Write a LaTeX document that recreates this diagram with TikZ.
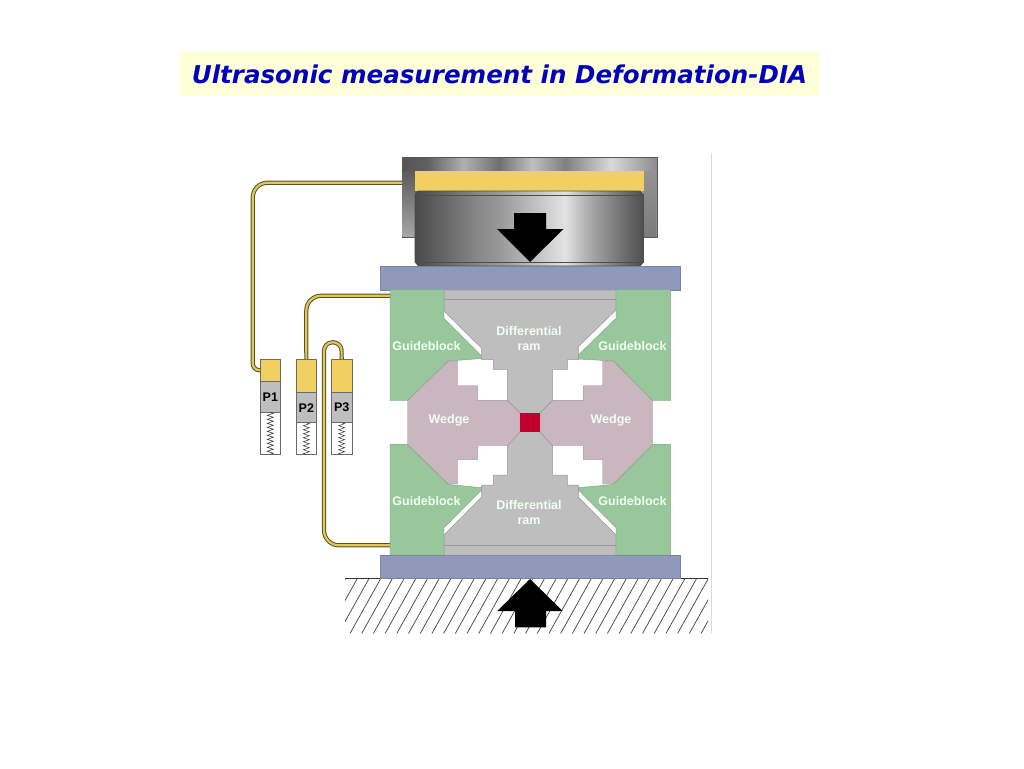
\documentclass[tikz,border=0pt]{standalone}
\usepackage{fontspec}
\setmainfont{Liberation Sans}
\newfontfamily\titlefont{DejaVu Sans}
\usetikzlibrary{decorations.pathmorphing}
\definecolor{platec}{HTML}{8F9ABA}
\definecolor{greenc}{HTML}{98C79C}
\definecolor{wedgec}{HTML}{C9B6BE}
\definecolor{grayc}{HTML}{BEBEBE}
\definecolor{redc}{HTML}{C0002A}
\definecolor{yellowc}{HTML}{F0D060}
\definecolor{edgec}{HTML}{6A6A6A}
\definecolor{cablec}{HTML}{5A4E28}
\definecolor{cablefill}{HTML}{DDC85A}
\definecolor{titlebg}{HTML}{FFFFD8}
\definecolor{titlec}{HTML}{0000C0}
\pgfdeclarehorizontalshading{cylshade}{100bp}{rgb(0bp)=(.29,.29,.29);rgb(25bp)=(.29,.29,.29);rgb(39.2bp)=(.54,.54,.54);rgb(43.6bp)=(.60,.60,.60);rgb(57.8bp)=(.89,.89,.89);rgb(63.3bp)=(.66,.66,.66);rgb(71bp)=(.42,.42,.42);rgb(75bp)=(.31,.31,.31);rgb(100bp)=(.31,.31,.31)}
\pgfdeclarehorizontalshading{houseshade}{100bp}{rgb(0bp)=(.33,.33,.33);rgb(25bp)=(.33,.33,.33);rgb(30bp)=(.38,.38,.38);rgb(37bp)=(.69,.69,.69);rgb(44bp)=(.44,.44,.44);rgb(50.5bp)=(.75,.75,.75);rgb(57bp)=(.5,.5,.5);rgb(66bp)=(.85,.85,.85);rgb(75bp)=(.55,.55,.55);rgb(100bp)=(.55,.55,.55)}
\tikzset{
  guideblock/.style={fill=greenc,draw=greenc!80!black,line width=.4},
  wedgeblock/.style={fill=wedgec,draw=wedgec!80!black,line width=.4},
  ramblock/.style={fill=grayc,draw=edgec!70,line width=.5},
  plate/.style={fill=platec,draw=platec!85!black,line width=.5},
  solidarrow/.style={fill=black,draw=none},
  lbl/.style={text=white!95!green,font=\fontsize{12.5}{15}\selectfont\bfseries,align=center,inner sep=0},
  cable/.style={draw=cablec,line width=1,double=cablefill,double distance=2.2,line join=round},
  gaugepart/.style={draw=edgec,line width=.8,anchor=north west,inner sep=0,minimum width=20.7,outer sep=0},
  plabel/.style={text=black,font=\fontsize{12.5}{14.5}\selectfont\bfseries,inner sep=0},
  spring/.style={draw=black!75,line width=.6,decorate,decoration={zigzag,amplitude=3,segment length=4}},
}
\begin{document}
\begin{tikzpicture}[x=1pt,y=-1pt]
\useasboundingbox (0,0) rectangle (1024,768);
% title
\node[fill=titlebg,minimum width=639,minimum height=44,inner sep=0,text=titlec,font=\titlefont\fontsize{24.55}{28}\selectfont\bfseries\itshape] (title) at (499.5,74) {Ultrasonic measurement in Deformation-DIA};
% frame edge
\coordinate (frameA) at (711.5,153);
\coordinate (frameB) at (711.5,633);
\draw[black!15,line width=.8] (frameA) -- (frameB);
% hatched ground
\begin{scope}
\clip (345,578) rectangle (708,633.5);
\foreach \i in {0,...,34}{
  \draw[black!75,line width=.7] ({345.9+11.7*\i},578) -- ({345.9+11.7*\i-31},633.5);
}
\end{scope}
\coordinate (groundA) at (345,578.5);
\coordinate (groundB) at (708,578.5);
\draw[black!80,line width=.9] (groundA) -- (groundB);
% loading press
\node[shading=houseshade,draw=black!65,line width=.6,minimum width=254.5,minimum height=80,inner sep=0,anchor=north west] (housing) at (402,157) {};
\fill[top color=black!64,bottom color=black!35] (402.3,171) rectangle (415,236.7);
\fill[top color=black!42,bottom color=black!52] (643.5,171) rectangle (656.2,236.7);
\node[fill=yellowc,minimum width=228.5,minimum height=20,inner sep=0,anchor=north west] (anvil) at (415,171) {};
\fill[shading=cylshade] (415,195) -- (418.5,191) -- (640,191) -- (643.5,195) -- (643.5,262) -- (640,266) -- (418.5,266) -- (415,262) -- cycle;
\draw[black!70,line width=.7] (415,195) -- (418.5,191) -- (640,191) -- (643.5,195) -- (643.5,262) -- (640,266) -- (418.5,266) -- (415,262) -- cycle;
\draw[black!70,line width=.7] (415,195) -- (643.5,195);
\draw[black!70,line width=.7] (415,262) -- (643.5,262);
\fill[solidarrow] (514,213) -- (546,213) -- (546,229) -- (563.5,229) -- (530,262) -- (497,229) -- (514,229) -- cycle;
% plates
\node[plate,minimum width=300,minimum height=24,inner sep=0,anchor=north west] (topplate) at (380,266) {};
\node[plate,minimum width=300,minimum height=23,inner sep=0,anchor=north west] (botplate) at (380,555) {};
% differential ram
\path[ramblock] (444,290) -- (616,290) -- (616,310) -- (578.3,346.7) -- (578.3,359.7) -- (567.3,359.7) -- (567.3,369.3) -- (552.7,369.3) -- (552.7,400.3) -- (540,413) -- (540,432) -- (552.7,445.7) -- (552.7,475) -- (567.3,475) -- (567.3,485) -- (578.3,485) -- (578.3,497) -- (616,535) -- (616,555) -- (444,555) -- (444,535) -- (481.7,497) -- (481.7,485) -- (493.3,485) -- (493.3,475) -- (507.3,475) -- (507.3,445.7) -- (520,432) -- (520,413) -- (507.3,400.3) -- (507.3,369.3) -- (493.3,369.3) -- (493.3,359.7) -- (481.7,359.7) -- (481.7,348.3) -- (444,311) -- cycle;
\draw[edgec!70,line width=.6] (444,299.3) -- (616,299.3);
\draw[edgec!70,line width=.6] (444,545.7) -- (616,545.7);
% guideblocks
\path[guideblock] (390,289.5) -- (444,289.5) -- (444,318.5) -- (481.7,356) -- (481.7,358.5) -- (448.3,361) -- (407.5,400.7) -- (390,400.7) -- cycle;
\path[guideblock] (670.3,289.5) -- (616,289.5) -- (616,318.3) -- (578.3,355) -- (578.3,359) -- (613.3,361) -- (652.7,400.7) -- (670.3,400.7) -- cycle;
\path[guideblock] (390,555) -- (444,555) -- (444,527.5) -- (481.7,490) -- (481.7,487.7) -- (448.3,484.5) -- (407.3,444.3) -- (390,444.3) -- cycle;
\path[guideblock] (670.3,555) -- (616,555) -- (616,527.5) -- (578.3,490) -- (578.3,487.7) -- (613.3,484.5) -- (652.7,444.3) -- (670.3,444.3) -- cycle;
% wedges
\path[wedgeblock] (407.5,400.7) -- (448.3,361) -- (457.7,361) -- (457.7,385.7) -- (477.3,385.7) -- (477.3,400.3) -- (507.3,400.3) -- (520,413) -- (520,432) -- (507.3,445.7) -- (477.3,445.7) -- (477.3,459.3) -- (457.7,459.3) -- (457.7,484) -- (448.3,484) -- (407.5,444.3) -- cycle;
\path[wedgeblock] (652.7,400.7) -- (613.3,361) -- (602.7,361) -- (602.7,385.7) -- (583.3,385.7) -- (583.3,400.3) -- (552.7,400.3) -- (540,413) -- (540,432) -- (552.7,445.7) -- (583.3,445.7) -- (583.3,459.3) -- (602.7,459.3) -- (602.7,484) -- (613.3,484) -- (652.7,444.3) -- cycle;
% sample
\node[fill=redc,minimum width=20,minimum height=19,inner sep=0,anchor=north west] (sample) at (520,413) {};
% labels
\node[lbl] (gb1) at (426.5,346) {Guideblock};
\node[lbl] (gb2) at (632.5,346) {Guideblock};
\node[lbl] (gb3) at (426.5,501) {Guideblock};
\node[lbl] (gb4) at (632.5,501) {Guideblock};
\node[lbl] (wl) at (449,420.5) {Wedge};
\node[lbl] (wr) at (611,420.5) {Wedge};
\node[lbl] (ram1) at (529,339) {Differential\\ram};
\node[lbl] (ram2) at (529,513) {Differential\\ram};
% gauges
\node[gaugepart,fill=white,minimum height=42.4] (p1w) at (260,412.3) {};
\node[gaugepart,fill=grayc,minimum height=31] (p1g) at (260,381.3) {};
\node[gaugepart,fill=yellowc,minimum height=22] (p1y) at (260,359.3) {};
\node[gaugepart,fill=white,minimum height=32] (p2w) at (296,422.7) {};
\node[gaugepart,fill=grayc,minimum height=30] (p2g) at (296,392.7) {};
\node[gaugepart,fill=yellowc,minimum height=33.4] (p2y) at (296,359.3) {};
\node[gaugepart,fill=white,minimum height=32] (p3w) at (331.3,422.7) {};
\node[gaugepart,fill=grayc,minimum height=30] (p3g) at (331.3,392.7) {};
\node[gaugepart,fill=yellowc,minimum height=33.4] (p3y) at (331.3,359.3) {};
\node[plabel] at (p1g) {P1};
\node[plabel] at (p2g) {P2};
\node[plabel] at (p3g) {P3};
\draw[spring] (p1w.north) -- (p1w.south);
\draw[spring] (p2w.north) -- (p2w.south);
\draw[spring] (p3w.north) -- (p3w.south);
% cables
\coordinate (cabA) at (402,182.7);
\coordinate (cabB) at (390,295.7);
\coordinate (cabC) at (390,545.3);
\draw[cable] (cabA) [rounded corners=15] -- (252.7,182.7) [rounded corners=7] -- (252.7,370.3) -- (p1y.west);
\draw[cable,rounded corners=15] (cabB) -- (306.3,295.7) -- (p2y.north);
\draw[cable] (cabC) [rounded corners=15] -- (324,545.3) [rounded corners=8.5] -- (324,342.3) -- (341.6,342.3) -- (p3y.north);
% arrow from below
\fill[solidarrow] (530,579) -- (562.7,611) -- (546,611) -- (546,627.3) -- (515,627.3) -- (515,611) -- (497.3,611) -- cycle;
\end{tikzpicture}
\end{document}
